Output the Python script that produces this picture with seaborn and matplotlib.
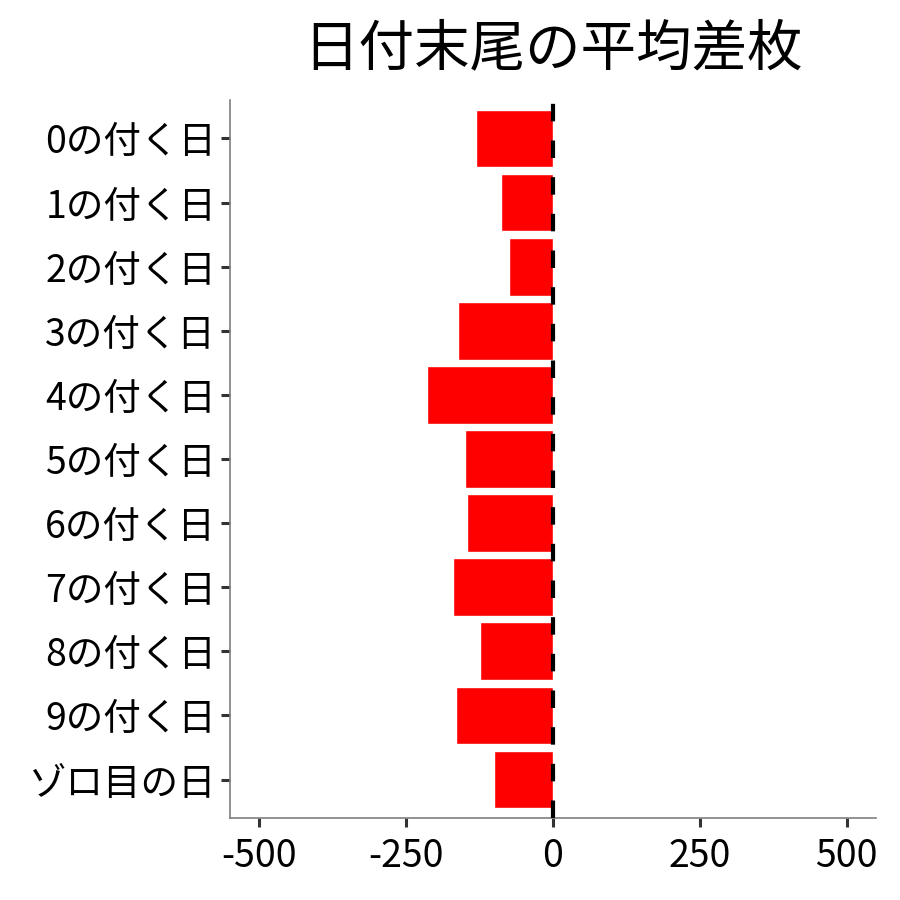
import pandas as pd
import seaborn as sns
import matplotlib.pyplot as plt

# data
labels = ['0の付く日', '1の付く日', '2の付く日', '3の付く日', '4の付く日', '5の付く日',
          '6の付く日', '7の付く日', '8の付く日', '9の付く日', 'ゾロ目の日']
values = [-131, -88, -75, -162, -214, -150, -146, -170, -124, -165, -100]
xticks = [-500, -250, 0, 250, 500]

df = pd.DataFrame({'label': labels, 'value': values})

sns.set_style('white')
plt.rcParams['font.family'] = ['Noto Sans CJK JP', 'DejaVu Sans']

fig = plt.figure(figsize=(9, 9), dpi=100)
ax = fig.add_axes([0.2556, 0.0911, 0.7178, 0.7978])

sns.barplot(data=df, x='value', y='label', order=labels, color='#ff0000',
            saturation=1, width=0.9, orient='h', ax=ax)

# zero line
ax.axvline(0, color='black', lw=3.0, linestyle=(0, (4.2, 4.6)), zorder=5)

ax.set_xlim(-550, 550)
ax.set_ylim(10.6, -0.6)
ax.set_xticks(xticks)
ax.set_xticklabels([str(t) for t in xticks])
ax.set_xlabel('')
ax.set_ylabel('')

for side in ['top', 'right']:
    ax.spines[side].set_visible(False)
for side in ['left', 'bottom']:
    ax.spines[side].set_color('#7f7f7f')
    ax.spines[side].set_linewidth(1.2)

ax.tick_params(axis='both', which='major', length=6.5, width=2.2, color='#333333',
               labelsize=27, labelcolor='black', pad=3.5, direction='out')
ax.tick_params(axis='x', pad=7)
ax.tick_params(left=True, bottom=True)

ax.set_title('日付末尾の平均差枚', fontsize=40, pad=25, color='black')

fig.savefig('out.png', dpi=100)
